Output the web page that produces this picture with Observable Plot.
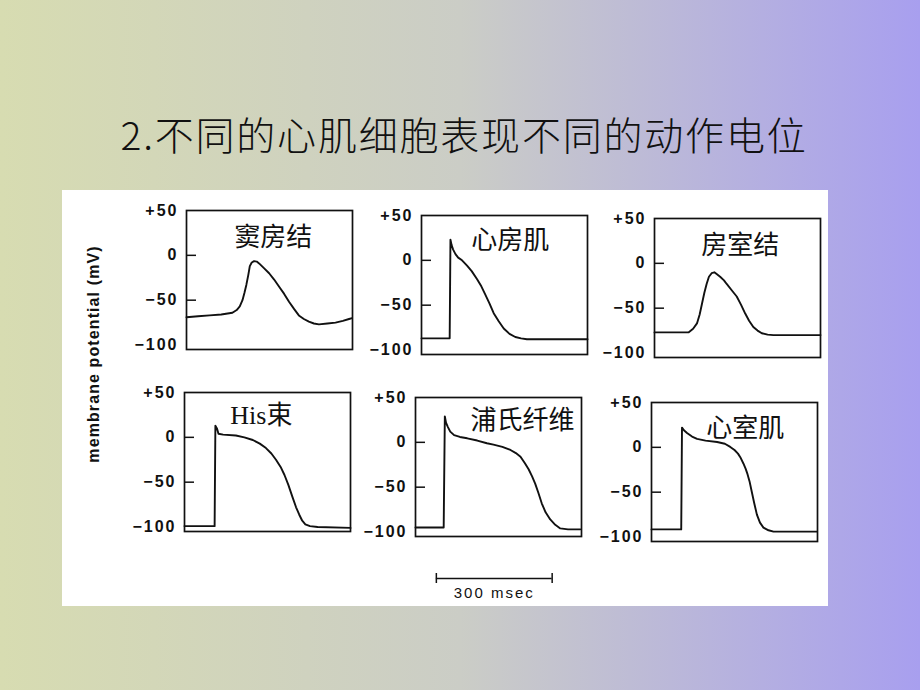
<!DOCTYPE html>
<html>
<head>
<meta charset="utf-8">
<script src="https://cdn.jsdelivr.net/npm/d3@7"></script>
<script src="https://cdn.jsdelivr.net/npm/@observablehq/plot@0.6"></script>
<style>
html, body { margin: 0; padding: 0; }
body {
  width: 920px; height: 690px; position: relative; overflow: hidden;
  background: linear-gradient(90deg, #d7dcb1 0%, #cbcdc6 50%, #a89fef 100%);
  font-family: "Noto Sans CJK SC", sans-serif;
}
#title {
  position: absolute; left: 4px; width: 920px; top: 114px;
  text-align: center; font-size: 39px; line-height: 39px; letter-spacing: 1.8px;
  font-weight: 300; color: #111; font-family: "Noto Sans CJK SC", sans-serif;
}
#sheet { position: absolute; left: 62px; top: 190px; width: 766px; height: 416px; background: #fff; }
.panel { position: absolute; }
.panel g[aria-label^="y-axis"] text { letter-spacing: 2px; font-weight: 600; }
.scalebar text { letter-spacing: 2px; }
#ylab {
  position: absolute; left: 94px; top: 354px;
  transform: translate(-50%, -50%) rotate(-90deg);
  white-space: nowrap; font-family: "Liberation Sans", Arial, sans-serif;
  font-size: 16px; font-weight: 600; letter-spacing: 1.1px; color: #111;
}
</style>
</head>
<body>
<div id="title">2.不同的心肌细胞表现不同的动作电位</div>
<div id="sheet"></div>
<div id="ylab">membrane potential (mV)</div>
<script>
// ---- data: [time (ms), membrane potential (mV)] ----
const sinoatrialNode = [[0,-69],[30,-68],[60,-67],[90,-66],[119,-64],[130,-61],[138,-57],[145,-50],[150,-42],[155,-33],[160,-22],[164,-12],[169,-8],[175,-6.5],[182,-7],[188,-9],[200,-14],[214,-20],[227,-27],[240,-35],[253,-43],[266,-52],[279,-60],[291,-67],[304,-71],[317,-74],[330,-76],[343,-77],[365,-76],[386,-75],[405,-73],[421,-71],[429,-70]];
const atrialMuscle = [[0,-87],[73,-87],[75,23],[78,17],[82,12],[88,7],[95,3],[105,0],[118,-6],[130,-12],[144,-21],[155,-29],[165,-38],[176,-48],[187,-59],[200,-68],[213,-76],[228,-82],[243,-85.5],[258,-87],[273,-88],[430,-88]];
const avNode = [[0,-77],[88,-77],[100,-73],[110,-67],[117,-57],[123,-45],[129,-33],[135,-23],[141,-15],[148,-11],[155,-10],[161,-12],[170,-15],[180,-19],[187,-23],[200,-30],[213,-37],[224,-46],[235,-56],[245,-64],[256,-71],[267,-75],[278,-78],[293,-79.5],[308,-80],[430,-80]];
const hisBundle = [[0,-99],[78,-99],[80,13],[84,10],[88,4],[100,3],[133,2],[155,0],[177,-3],[195,-7],[211,-12],[225,-18],[237,-25],[249,-33],[259,-42],[269,-53],[280,-67],[289,-78],[297,-86],[305,-93],[313,-97],[325,-99],[345,-100],[430,-101]];
const purkinjeFiber = [[0,-95],[73,-95],[76,29],[79,22],[84,17],[90,12],[100,8],[115,6],[134,4.5],[160,2],[185,-1],[202,-2.5],[225,-5],[246,-8.5],[260,-12],[272,-16],[283,-23],[293,-30],[302,-38],[310,-46],[318,-56],[327,-68],[337,-78],[349,-86],[362,-92],[375,-96],[395,-97],[427,-97]];
const ventricularMuscle = [[0,-91.5],[77,-91.5],[79,22],[84,19],[92,16],[105,12],[118,9.5],[140,7.5],[170,6],[190,4],[204,0.5],[215,-3],[224,-7],[230,-11],[238,-18],[244,-24],[248,-29],[254,-38],[260,-50],[266,-62],[273,-75],[281,-84],[290,-89.5],[303,-92.5],[316,-94],[428,-94]];

const panelNames = ["窦房结", "心房肌", "房室结", "His束", "浦氏纤维", "心室肌"];
const yTickValues = [50, 0, -50, -100];
const innerTickValues = [0, -50];
const scaleBarMs = 300;
const scaleBarStart = 54;
const scaleBarLabel = "300 msec";

// ---- layout ----
const ML = 60, MR = 4, MT = 8, MB = 8, IW = 166, IH = 139;
const yDomain = [-105, 50];
const pxPerMv = IH / (yDomain[1] - yDomain[0]);
const layout = [
  {data: sinoatrialNode,    frameLeft: 186, zeroY: 255, labelT: 225, labelV: 20},
  {data: atrialMuscle,      frameLeft: 421, zeroY: 260, labelT: 230, labelV: 22},
  {data: avNode,            frameLeft: 654, zeroY: 263, labelT: 222, labelV: 20},
  {data: hisBundle,         frameLeft: 184, zeroY: 437, labelT: 199, labelV: 24},
  {data: purkinjeFiber,     frameLeft: 415, zeroY: 442, labelT: 277, labelV: 24},
  {data: ventricularMuscle, frameLeft: 651, zeroY: 447, labelT: 243, labelV: 21}
];

const fmt = d => d > 0 ? "+" + d : d < 0 ? "\u2212" + (-d) : "0";
const ink = "#111";

layout.forEach((cfg, i) => {
  const svg = Plot.plot({
    width: ML + IW + MR, height: MT + IH + MB,
    marginLeft: ML, marginRight: MR, marginTop: MT, marginBottom: MB,
    style: {fontFamily: '"Liberation Sans", Arial, sans-serif', fontSize: "16px", color: ink, background: "transparent", overflow: "visible"},
    x: {domain: [0, 430], axis: null},
    y: {domain: yDomain, ticks: yTickValues, tickFormat: fmt, tickSize: 0, tickPadding: 8, label: null},
    marks: [
      Plot.frame({stroke: ink, strokeWidth: 1.7}),
      Plot.tickY(innerTickValues, {y: d => d, stroke: ink, strokeWidth: 1.5, insetRight: IW - 10}),
      Plot.line(cfg.data, {x: d => d[0], y: d => d[1], stroke: ink, strokeWidth: 1.9}),
      Plot.text([panelNames[i]], {x: cfg.labelT, y: cfg.labelV, text: d => d, fontSize: 26,
        fontFamily: '"Liberation Serif", "Noto Sans CJK SC", serif', fill: ink})
    ]
  });
  const div = document.createElement("div");
  div.className = "panel";
  div.style.left = (cfg.frameLeft - ML) + "px";
  div.style.top = (cfg.zeroY - MT - yDomain[1] * pxPerMv) + "px";
  div.appendChild(svg);
  document.body.appendChild(div);
});

// ---- time scale bar (shares the panels' x scale) ----
const bar = Plot.plot({
  width: ML + IW + MR, height: 36,
  marginLeft: ML, marginRight: MR, marginTop: 0, marginBottom: 0,
  style: {background: "transparent", overflow: "visible"},
  x: {domain: [0, 430], axis: null},
  y: {domain: [0, 36], range: [0, 36], axis: null},
  marks: [
    Plot.ruleY([12], {x1: scaleBarStart, x2: scaleBarStart + scaleBarMs, stroke: ink, strokeWidth: 1.5}),
    Plot.ruleX([scaleBarStart, scaleBarStart + scaleBarMs], {y1: 7, y2: 17, stroke: ink, strokeWidth: 1.5}),
    Plot.text([scaleBarLabel], {x: scaleBarStart + scaleBarMs / 2, y: 27, text: d => d, fontSize: 15,
      fontFamily: '"Liberation Sans", Arial, sans-serif', fill: ink})
  ]
});
const barDiv = document.createElement("div");
barDiv.className = "panel scalebar";
barDiv.style.left = (415 - ML) + "px";
barDiv.style.top = "566px";
barDiv.appendChild(bar);
document.body.appendChild(barDiv);
</script>
</body>
</html>
